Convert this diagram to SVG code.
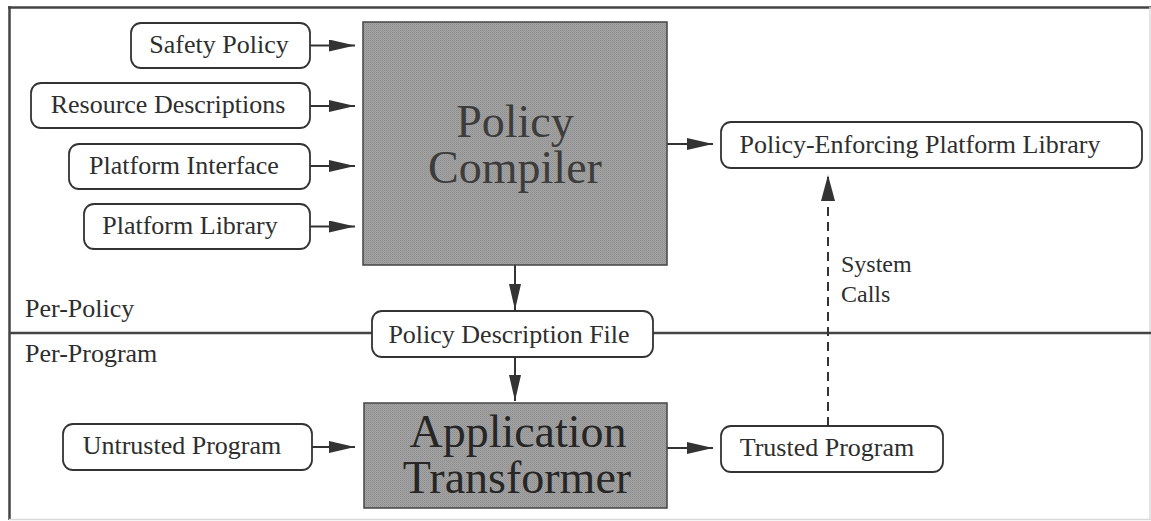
<svg xmlns="http://www.w3.org/2000/svg" width="1151" height="521" viewBox="0 0 1151 521">
  <defs>
    <!-- halftone-like grey fill for the two processing blocks -->
    <pattern id="screen" width="2" height="2" patternUnits="userSpaceOnUse">
      <rect width="2" height="2" fill="#a4a4a4"/>
      <rect width="1" height="1" fill="#8e8e8e"/>
      <rect x="1" y="1" width="1" height="1" fill="#969696"/>
    </pattern>
    <marker id="head" markerUnits="userSpaceOnUse" markerWidth="26" markerHeight="12" refX="26" refY="6" orient="auto">
      <path d="M0,0 L26,6 L0,12 Z" fill="#333"/>
    </marker>
    <marker id="headUp" markerUnits="userSpaceOnUse" markerWidth="26" markerHeight="14" refX="26" refY="7" orient="auto">
      <path d="M0,0 L26,7 L0,14 Z" fill="#333"/>
    </marker>
    <style>
      .box { fill: #fff; stroke: #333; stroke-width: 1.8; }
      .block { fill: url(#screen); stroke: #444; stroke-width: 1.5; }
      .lbl { font-family: "Liberation Serif", "Times New Roman", serif; font-size: 26px; fill: #2e2e2e; text-anchor: middle; }
      .side { font-family: "Liberation Serif", "Times New Roman", serif; font-size: 26px; fill: #2e2e2e; }
      .note { font-family: "Liberation Serif", "Times New Roman", serif; font-size: 24px; fill: #2e2e2e; }
      .big { font-family: "Liberation Serif", "Times New Roman", serif; font-size: 46px; text-anchor: middle; }
      .link { stroke: #333; stroke-width: 2; fill: none; marker-end: url(#head); }
      .dash { stroke: #333; stroke-width: 2; fill: none; stroke-dasharray: 9 6; marker-end: url(#headUp); }
      .rule { stroke: #444; stroke-width: 2.5; fill: none; }
    </style>
  </defs>

  <rect width="1151" height="521" fill="#fff"/>

  <!-- frame -->
  <g id="frame">
    <line x1="8" y1="7.5" x2="1151" y2="7.5" class="rule"/>
    <line x1="9.5" y1="6" x2="9.5" y2="520" class="rule" stroke-width="3"/>
    <line x1="9" y1="519.5" x2="1151" y2="519.5" stroke="#d8d8d8" stroke-width="1.5"/>
    <line x1="1150" y1="7" x2="1150" y2="520" stroke="#dcdcdc" stroke-width="1.5"/>
  </g>

  <!-- per-policy / per-program divider -->
  <g id="divider">
    <line x1="9" y1="333" x2="372" y2="333" class="rule"/>
    <line x1="653" y1="333" x2="1151" y2="333" class="rule"/>
    <text class="side" x="25" y="317">Per-Policy</text>
    <text class="side" x="25" y="362">Per-Program</text>
  </g>

  <!-- connectors -->
  <g id="connectors">
    <line class="link" x1="310" y1="45.5" x2="355" y2="45.5"/>
    <line class="link" x1="310" y1="106" x2="355" y2="106"/>
    <line class="link" x1="310" y1="166" x2="355" y2="166"/>
    <line class="link" x1="310" y1="226.5" x2="355" y2="226.5"/>
    <line class="link" x1="667" y1="144" x2="713" y2="144"/>
    <line class="link" x1="515" y1="265" x2="515" y2="310"/>
    <line class="link" x1="515" y1="357" x2="515" y2="401"/>
    <line class="link" x1="312" y1="447" x2="355" y2="447"/>
    <line class="link" x1="667" y1="448" x2="713" y2="448"/>
    <line class="dash" x1="828" y1="426" x2="828" y2="175"/>
    <text class="note" x="841" y="272">System</text>
    <text class="note" x="841" y="302">Calls</text>
  </g>

  <!-- policy inputs -->
  <g id="safety-policy">
    <rect class="box" x="131" y="23" width="179" height="45" rx="10"/>
    <text class="lbl" x="219" y="53">Safety Policy</text>
  </g>
  <g id="resource-descriptions">
    <rect class="box" x="31" y="83" width="279" height="45" rx="10"/>
    <text class="lbl" x="168" y="113">Resource Descriptions</text>
  </g>
  <g id="platform-interface">
    <rect class="box" x="69" y="144" width="241" height="45" rx="10"/>
    <text class="lbl" x="184" y="174">Platform Interface</text>
  </g>
  <g id="platform-library">
    <rect class="box" x="84" y="204" width="226" height="45" rx="10"/>
    <text class="lbl" x="190" y="234">Platform Library</text>
  </g>

  <!-- policy compiler -->
  <g id="policy-compiler">
    <rect class="block" x="363" y="22" width="304" height="243"/>
    <text class="big" x="515" y="137" fill="#3c3c3c">Policy</text>
    <text class="big" x="515" y="183" fill="#3c3c3c">Compiler</text>
  </g>

  <g id="enforcing-library">
    <rect class="box" x="721" y="122" width="421" height="46" rx="10"/>
    <text class="lbl" x="920" y="153">Policy-Enforcing Platform Library</text>
  </g>

  <g id="policy-description-file">
    <rect class="box" x="372" y="311" width="281" height="46" rx="10"/>
    <text class="lbl" x="509" y="343">Policy Description File</text>
  </g>

  <!-- per-program stage -->
  <g id="untrusted-program">
    <rect class="box" x="63" y="424" width="249" height="46" rx="10"/>
    <text class="lbl" x="182" y="454">Untrusted Program</text>
  </g>

  <g id="application-transformer">
    <rect class="block" x="364" y="403" width="303" height="105"/>
    <text class="big" x="518" y="447" fill="#262626">Application</text>
    <text class="big" x="517" y="493" fill="#262626">Transformer</text>
  </g>

  <g id="trusted-program">
    <rect class="box" x="721" y="426" width="222" height="46" rx="10"/>
    <text class="lbl" x="827" y="456">Trusted Program</text>
  </g>
</svg>
